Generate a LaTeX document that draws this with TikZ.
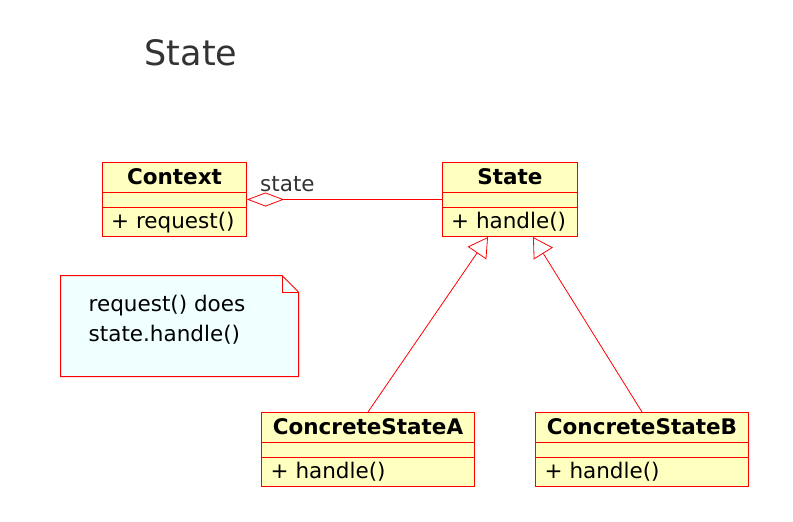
\documentclass[tikz,border=0pt]{standalone}
\usepackage{fontspec}
\setmainfont{DejaVu Sans}
\usetikzlibrary{arrows.meta,calc}
\definecolor{boxfill}{HTML}{FFFFC0}
\definecolor{notefill}{HTML}{F0FFFF}
\definecolor{umlred}{HTML}{FF0000}
\definecolor{titlegray}{HTML}{333333}
\tikzset{
  classbox/.style={draw=umlred, fill=boxfill, line width=1pt, inner sep=0pt, rectangle},
  divider/.style={draw=umlred, line width=1pt},
  txt/.style={inner sep=0pt, font=\fontsize{21.5}{30}\selectfont},
  btxt/.style={inner sep=0pt, font=\fontsize{21.5}{30}\selectfont\bfseries},
  inherit/.style={draw=umlred, line width=0.8pt, -{Triangle[open, length=19.5pt, width=22.5pt, fill=white]}},
  aggr/.style={draw=umlred, line width=0.8pt, {Diamond[open, length=37pt, width=14pt, fill=white]}-},
}
\begin{document}
\begin{tikzpicture}[x=1pt, y=-1pt]
\useasboundingbox (0,0) rectangle (793,522);
% title
\node[inner sep=0pt, anchor=base west, text=titlegray, font=\fontsize{35}{40}\selectfont] (title) at (144.5,65) {State};
% Context
\node[classbox, minimum width=144pt, minimum height=74pt] (context) at (174.5,199.5) {};
\draw[divider] (context.west |- 0,192.5) -- (context.east |- 0,192.5) (context.west |- 0,207.5) -- (context.east |- 0,207.5);
\node[btxt, anchor=base] (contextname) at (174.5,184) {Context};
\node[txt, anchor=base west] (contextop) at (111,228) {+ request()};
% State
\node[classbox, minimum width=135pt, minimum height=74pt] (state) at (510,199.5) {};
\draw[divider] (state.west |- 0,192.5) -- (state.east |- 0,192.5) (state.west |- 0,207.5) -- (state.east |- 0,207.5);
\node[btxt, anchor=base] (statename) at (510,184) {State};
\node[txt, anchor=base west] (stateop) at (451,228) {+ handle()};
% ConcreteStateA
\node[classbox, minimum width=213pt, minimum height=74pt] (csa) at (368,449.5) {};
\draw[divider] (csa.west |- 0,442.5) -- (csa.east |- 0,442.5) (csa.west |- 0,457.5) -- (csa.east |- 0,457.5);
\node[btxt, anchor=base] (csaname) at (368,434) {ConcreteStateA};
\node[txt, anchor=base west] (csaop) at (270.5,478) {+ handle()};
% ConcreteStateB
\node[classbox, minimum width=213pt, minimum height=74pt] (csb) at (642,449.5) {};
\draw[divider] (csb.west |- 0,442.5) -- (csb.east |- 0,442.5) (csb.west |- 0,457.5) -- (csb.east |- 0,457.5);
\node[btxt, anchor=base] (csbname) at (642,434) {ConcreteStateB};
\node[txt, anchor=base west] (csbop) at (544.5,478) {+ handle()};
% note
\draw[draw=umlred, fill=notefill, line width=1pt] (60.5,275.5) -- (282,275.5) -- (298.5,292) -- (298.5,376.5) -- (60.5,376.5) -- cycle;
\draw[draw=umlred, line width=0.6pt] (282,275.5) -- (282,292) -- (298.5,292);
\node[txt, anchor=base west] (note1) at (88.5,311) {request() does};
\node[txt, anchor=base west] (note2) at (88.5,341) {state.handle()};
% connectors
\draw[aggr] (context.east) -- (state.west);
\node[inner sep=0pt, anchor=base west, text=titlegray, font=\fontsize{21.5}{30}\selectfont] (rolelabel) at (260,191) {state};
\draw[inherit] (csa.north) -- ($(state.south)+(-22,0)$);
\draw[inherit] (csb.north) -- ($(state.south)+(23,0)$);
\end{tikzpicture}
\end{document}
